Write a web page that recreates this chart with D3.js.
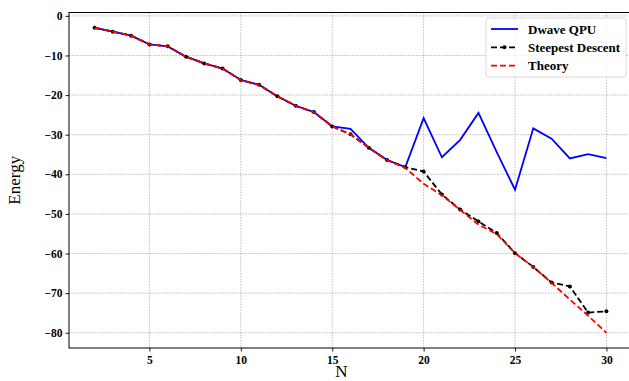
<!DOCTYPE html>
<html>
<head>
<meta charset="utf-8">
<script src="https://cdn.jsdelivr.net/npm/d3@7"></script>
<style>
  body { margin: 0; background: #fff; }
  svg { display: block; }
  .grid line { stroke: #b0b0b0; stroke-width: 0.8; stroke-dasharray: 1.6, 1.2; }
</style>
</head>
<body>
<div id="chart"></div>
<script>
/* chart data */
var nValues = d3.range(2, 31)
var dwave = [-3, -4, -5, -7.2, -7.7, -10.3, -12, -13.3, -16.2, -17.4, -20.3, -22.7, -24.3, -27.9,
  -28.5, -33.3, -36.4, -38.2, -25.8, -35.7, -31.3, -24.5, -34.4, -43.9, -28.4, -31.0, -36.0, -34.9, -35.9]
var steepest = [-3, -4, -5, -7.2, -7.7, -10.3, -12, -13.3, -16.2, -17.4, -20.3, -22.7, -24.3, -27.9,
  -29.9, -33.3, -36.4, -38.2, -39.3, -45.1, -48.9, -51.9, -54.8, -59.9, -63.4, -67.3, -68.3, -74.9, -74.6]
var theory = [-3, -4, -5, -7.2, -7.7, -10.3, -12, -13.3, -16.2, -17.4, -20.3, -22.7, -24.3, -27.9,
  -29.9, -33.3, -36.4, -38.4, -42.4, -45.3, -49, -52.7, -55.1, -59.9, -63.4, -67.4, -71.6, -75.7, -80]
var xTicks = [5, 10, 15, 20, 25, 30]
var yTicks = [0, -10, -20, -30, -40, -50, -60, -70, -80]
var seriesNames = ["Dwave QPU", "Steepest Descent", "Theory"]

var W = 629, H = 381
var margin = { top: 12.5, right: -3, bottom: 33, left: 69 }
var width = W - margin.left - margin.right
var height = H - margin.top - margin.bottom
var serif = "'Liberation Serif', 'DejaVu Serif', serif"

var x = d3.scaleLinear().domain([0.6, 31.4]).range([0, width])
var y = d3.scaleLinear().domain([-83.85, 0.85]).range([height, 0])

var svg = d3.select("#chart").append("svg")
    .attr("width", W)
    .attr("height", H)
var g = svg.append("g")
    .attr("transform", "translate(" + margin.left + "," + margin.top + ")")

// grid
g.append("g").attr("class", "grid")
  .selectAll("line.v").data(xTicks).enter().append("line")
    .attr("x1", function (d) { return x(d) }).attr("x2", function (d) { return x(d) })
    .attr("y1", 0).attr("y2", height)
g.select(".grid")
  .selectAll("line.h").data(yTicks).enter().append("line")
    .attr("x1", 0).attr("x2", width)
    .attr("y1", function (d) { return y(d) }).attr("y2", function (d) { return y(d) })

function line(vals) {
  return d3.line()
    .x(function (d, i) { return x(nValues[i]) })
    .y(function (d) { return y(d) })(vals)
}

// series
g.append("path").attr("d", line(dwave))
  .attr("fill", "none").attr("stroke", "#0000ff").attr("stroke-width", 1.8)
g.append("path").attr("d", line(steepest))
  .attr("fill", "none").attr("stroke", "#000").attr("stroke-width", 1.8)
  .attr("stroke-dasharray", "6,3")
g.selectAll("circle.sd").data(steepest).enter().append("circle")
  .attr("cx", function (d, i) { return x(nValues[i]) })
  .attr("cy", function (d) { return y(d) })
  .attr("r", 2).attr("fill", "#000")
g.append("path").attr("d", line(theory))
  .attr("fill", "none").attr("stroke", "#ff0000").attr("stroke-width", 1.8)
  .attr("stroke-dasharray", "6,3")

// axes
var xAxis = d3.axisBottom(x).tickValues(xTicks).tickSize(3.5).tickPadding(4)
var yAxis = d3.axisLeft(y).tickValues(yTicks).tickSize(3.5).tickPadding(3)
  .tickFormat(function (d) { return d < 0 ? "\u2212" + (-d) : d })
g.append("g").attr("transform", "translate(0," + height + ")").call(xAxis)
g.append("g").call(yAxis)
g.selectAll(".domain").remove()
g.selectAll(".tick line").attr("stroke", "#000").attr("stroke-width", 0.9)
g.selectAll(".tick text")
  .attr("fill", "#000")
  .style("font-family", serif).style("font-weight", "bold").style("font-size", "11.5px")

// frame
g.append("rect").attr("width", width).attr("height", height)
  .attr("fill", "none").attr("stroke", "#000").attr("stroke-width", 1)

// axis labels
svg.append("text")
  .attr("x", margin.left + x(15.5)).attr("y", 377)
  .attr("text-anchor", "middle")
  .style("font-family", serif).style("font-size", "17px")
  .text("N")
svg.append("text")
  .attr("transform", "translate(20," + (margin.top + height / 2) + ") rotate(-90)")
  .attr("text-anchor", "middle")
  .style("font-family", serif).style("font-size", "17px")
  .text("Energy")

// legend
var lg = svg.append("g").attr("transform", "translate(486,18)")
lg.append("rect").attr("width", 140).attr("height", 59).attr("rx", 2)
  .attr("fill", "#fff").attr("fill-opacity", 0.8).attr("stroke", "#d0d0d0").attr("stroke-width", 0.8)
var styles = [
  { color: "#0000ff", dash: null, marker: false },
  { color: "#000", dash: "6,3", marker: true },
  { color: "#ff0000", dash: "6,3", marker: false }
]
seriesNames.forEach(function (name, i) {
  var yy = 11 + i * 18.3
  lg.append("line").attr("x1", 5).attr("x2", 32).attr("y1", yy).attr("y2", yy)
    .attr("stroke", styles[i].color).attr("stroke-width", 1.8)
    .attr("stroke-dasharray", styles[i].dash)
  if (styles[i].marker) {
    lg.append("circle").attr("cx", 18.5).attr("cy", yy).attr("r", 2).attr("fill", "#000")
  }
  lg.append("text").attr("x", 42).attr("y", yy + 4.5)
    .style("font-family", serif).style("font-weight", "bold").style("font-size", "13px")
    .text(name)
})
</script>
</body>
</html>
